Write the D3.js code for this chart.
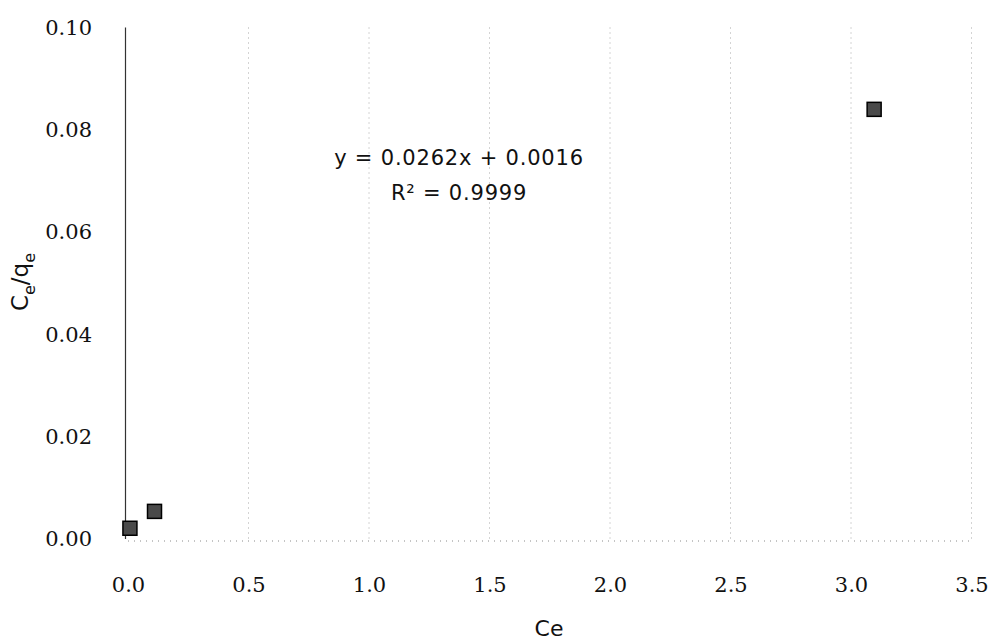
<!DOCTYPE html>
<html>
<head>
<meta charset="utf-8">
<script src="https://cdn.jsdelivr.net/npm/d3@7"></script>
<style>
  html, body { margin: 0; padding: 0; background: #fff; }
  svg { display: block; }
</style>
</head>
<body>
<svg id="chart" width="995" height="642"></svg>
<script>
// Langmuir linear plot: Ce versus Ce/qe
const ceValues = [0.008, 0.110, 3.096];
const ratioValues = [0.0021, 0.0054, 0.0840];
const xTicks = [0, 0.5, 1.0, 1.5, 2.0, 2.5, 3.0, 3.5];
const yTicks = [0, 0.02, 0.04, 0.06, 0.08, 0.10];
const equationLines = ["y = 0.0262x + 0.0016", "R² = 0.9999"];

const svg = d3.select("#chart");
const x = d3.scaleLinear().domain([0, 3.5]).range([128, 971.5]);
const y = d3.scaleLinear().domain([0, 0.10]).range([539, 27.5]);

const serif = "'DejaVu Serif', 'Liberation Serif', serif";
const sans = "'DejaVu Sans', Verdana, sans-serif";

// vertical dotted gridlines
svg.append("g")
  .selectAll("line")
  .data(xTicks.slice(1))
  .join("line")
  .attr("x1", d => x(d)).attr("x2", d => x(d))
  .attr("y1", y(0.10)).attr("y2", y(0))
  .attr("stroke", "#a8a8a8")
  .attr("stroke-width", 1)
  .attr("stroke-dasharray", "1,4");

// x axis baseline (dotted)
svg.append("line")
  .attr("x1", x(0)).attr("x2", x(3.5))
  .attr("y1", y(0) + 2).attr("y2", y(0) + 2)
  .attr("stroke", "#8a8a8a")
  .attr("stroke-dasharray", "1,5");

// x axis tick labels
const xAxis = d3.axisBottom(x).tickValues(xTicks).tickFormat(d3.format(".1f")).tickSize(0).tickPadding(0);
const gx = svg.append("g").attr("transform", `translate(0,592)`).call(xAxis);
gx.select(".domain").remove();
gx.selectAll("text")
  .attr("y", 0)
  .attr("dy", "0")
  .style("font-family", serif)
  .style("font-size", "21px")
  .attr("fill", "#111");

// y axis line
svg.append("line")
  .attr("x1", x(0) - 2.5).attr("x2", x(0) - 2.5)
  .attr("y1", y(0.10)).attr("y2", y(0))
  .attr("stroke", "#333")
  .attr("stroke-width", 1.2);

// y axis tick labels
const yAxis = d3.axisLeft(y).tickValues(yTicks).tickFormat(d3.format(".2f")).tickSize(0).tickPadding(0);
const gy = svg.append("g").attr("transform", `translate(92,0)`).call(yAxis);
gy.select(".domain").remove();
gy.selectAll("text")
  .style("font-family", serif)
  .style("font-size", "21px")
  .attr("fill", "#111");

// data markers
const pts = ceValues.map((c, i) => ({ c, r: ratioValues[i] }));
svg.append("g")
  .selectAll("rect")
  .data(pts)
  .join("rect")
  .attr("x", d => x(d.c) - 7)
  .attr("y", d => y(d.r) - 7)
  .attr("width", 14).attr("height", 14)
  .attr("fill", "#4a4a4a")
  .attr("stroke", "#000")
  .attr("stroke-width", 1.5);

// regression equation
svg.append("g")
  .selectAll("text")
  .data(equationLines)
  .join("text")
  .attr("x", 459)
  .attr("y", (d, i) => 165 + i * 35)
  .attr("text-anchor", "middle")
  .style("font-family", sans)
  .style("font-size", "21px")
  .style("letter-spacing", "0.8px")
  .attr("fill", "#111")
  .text(d => d);

// axis titles
svg.append("text")
  .attr("x", 549).attr("y", 636)
  .attr("text-anchor", "middle")
  .style("font-family", sans)
  .style("font-size", "22px")
  .attr("fill", "#111")
  .text("Ce");

const yt = svg.append("text")
  .attr("transform", "translate(28,282) rotate(-90)")
  .attr("text-anchor", "middle")
  .style("font-family", sans)
  .style("font-size", "23px")
  .attr("fill", "#111");
yt.append("tspan").text("C");
yt.append("tspan").attr("dy", 7).style("font-size", "16px").text("e");
yt.append("tspan").attr("dy", -7).text("/q");
yt.append("tspan").attr("dy", 7).style("font-size", "16px").text("e");
</script>
</body>
</html>
